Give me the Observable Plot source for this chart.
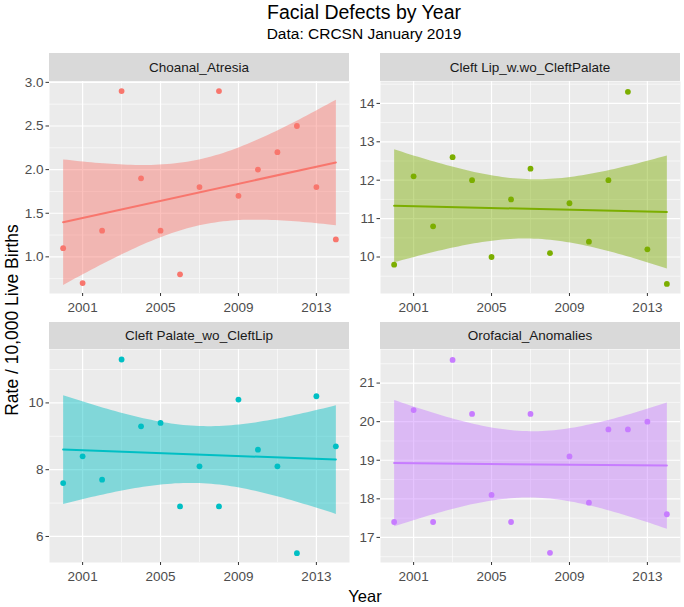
<!DOCTYPE html>
<html><head><meta charset="utf-8">
<script src="https://cdn.jsdelivr.net/npm/d3@7"></script>
<script src="https://cdn.jsdelivr.net/npm/@observablehq/plot@0.6"></script>
<style>
body{margin:0;background:#fff;font-family:"Liberation Sans",Arial,sans-serif;}
#root{position:relative;width:684px;height:607px;overflow:hidden;background:#fff;}
.txt{position:absolute;white-space:nowrap;color:#000;}
.strip{position:absolute;background:#D9D9D9;color:#1A1A1A;font-size:13.5px;text-align:center;display:flex;align-items:center;justify-content:center;}
</style></head><body><div id="root"></div>
<script>
// ---- data ----
const years = [2000,2001,2002,2003,2004,2005,2006,2007,2008,2009,2010,2011,2012,2013,2014];
const choanalAtresia = [1.1,0.7,1.3,2.9,1.9,1.3,0.8,1.8,2.9,1.7,2.0,2.2,2.5,1.8,1.2];
const cleftLipWithOrWithoutCleftPalate = [9.8,12.1,10.8,12.6,12.0,10.0,11.5,12.3,10.1,11.4,10.4,12.0,14.3,10.2,9.3];
const cleftPalateWithoutCleftLip = [7.6,8.4,7.7,11.3,9.3,9.4,6.9,8.1,6.9,10.1,8.6,8.1,5.5,10.2,8.7];
const orofacialAnomalies = [17.4,20.3,17.4,21.6,20.2,18.1,17.4,20.2,16.6,19.1,17.9,19.8,19.8,20.0,17.6];
const panelNames = ["Choanal_Atresia","Cleft Lip_w.wo_CleftPalate","Cleft Palate_wo_CleftLip","Orofacial_Anomalies"];
const panelColors = ["#F8766D","#7CAE00","#00BFC4","#C77CFF"];
const xTicks = [2001,2005,2009,2013];
const xMinor = [2003,2007,2011];
const yTicks = [[1.0,1.5,2.0,2.5,3.0],[10,11,12,13,14],[6,8,10],[17,18,19,20,21]];
const yDomains = [[0.58,3.01],[9.05,14.57],[5.22,11.6],[16.35,21.87]];
const titleText = "Facial Defects by Year";
const subtitleText = "Data: CRCSN January 2019";
const xTitle = "Year";
const yTitle = "Rate / 10,000 Live Births";

// ---- layout ----
const seriesList = [choanalAtresia, cleftLipWithOrWithoutCleftPalate, cleftPalateWithoutCleftLip, orofacialAnomalies];
const layout = [
  {x:49, y:81, w:300, h:212, sy:53, sh:28},
  {x:380, y:81, w:300, h:212, sy:53, sh:28},
  {x:49, y:349, w:300, h:213, sy:322, sh:27},
  {x:380, y:349, w:300, h:213, sy:322, sh:27}
];
const root = document.getElementById("root");
const ML = 40, MR = 4, MB = 28;

function addText(txt, css){
  const d = document.createElement("div");
  d.className = "txt"; d.textContent = txt;
  Object.assign(d.style, css);
  root.append(d);
  return d;
}
addText(titleText, {left:"364px", top:"1px", transform:"translateX(-50%)", fontSize:"19.5px"});
addText(subtitleText, {left:"364px", top:"25px", transform:"translateX(-50%)", fontSize:"15.5px"});
addText(xTitle, {left:"365px", top:"587px", transform:"translateX(-50%)", fontSize:"16.5px"});
addText(yTitle, {left:"12px", top:"320px", transform:"translate(-50%,-50%) rotate(-90deg)", fontSize:"17.5px"});

seriesList.forEach((vals, i) => {
  const L = layout[i];
  const data = years.map((yr, j) => ({year: yr, rate: vals[j]}));
  const ticks = yTicks[i];
  const step = ticks[1] - ticks[0];
  const dom = yDomains[i];
  const yMinor = [ticks[0] - step/2, ...ticks.map(t => t + step/2)].filter(v => v > dom[0] && v < dom[1]);
  const fmt = i === 0 ? d3.format(".1f") : d3.format("d");
  const svg = Plot.plot({
    width: L.w + ML + MR,
    height: L.h + MB,
    marginLeft: ML, marginRight: MR, marginTop: 0, marginBottom: MB,
    x: {domain: [1999.3, 2014.7], label: null},
    y: {domain: dom, label: null},
    style: {fontFamily: '"Liberation Sans", Arial, sans-serif', fontSize: "13.5px", color: "#4D4D4D", background: "transparent", overflow: "visible"},
    marks: [
      Plot.frame({fill: "#EBEBEB", stroke: null}),
      Plot.ruleX(xMinor, {stroke: "#fff", strokeWidth: 0.6}),
      Plot.ruleY(yMinor, {stroke: "#fff", strokeWidth: 0.6}),
      Plot.ruleX(xTicks, {stroke: "#fff", strokeWidth: 1.2}),
      Plot.ruleY(ticks, {stroke: "#fff", strokeWidth: 1.2}),
      Plot.linearRegressionY(data, {x: "year", y: "rate", ci: 0.95, stroke: panelColors[i], fill: panelColors[i], fillOpacity: 0.45, strokeWidth: 2}),
      Plot.dot(data, {x: "year", y: "rate", r: 2.9, fill: panelColors[i], stroke: null}),
      Plot.axisX({ticks: xTicks, tickFormat: d => String(d), tickSize: 3, tickPadding: 6, stroke: "#333"}),
      Plot.axisY({ticks: ticks, tickFormat: fmt, tickSize: 3.5, tickPadding: 2.5, stroke: "#333"})
    ]
  });
  svg.style.position = "absolute";
  svg.style.left = (L.x - ML) + "px";
  svg.style.top = L.y + "px";
  root.append(svg);
  const s = document.createElement("div");
  s.className = "strip";
  s.textContent = panelNames[i];
  Object.assign(s.style, {left: L.x + "px", top: L.sy + "px", width: L.w + "px", height: L.sh + "px"});
  root.append(s);
});
</script>
</body></html>
